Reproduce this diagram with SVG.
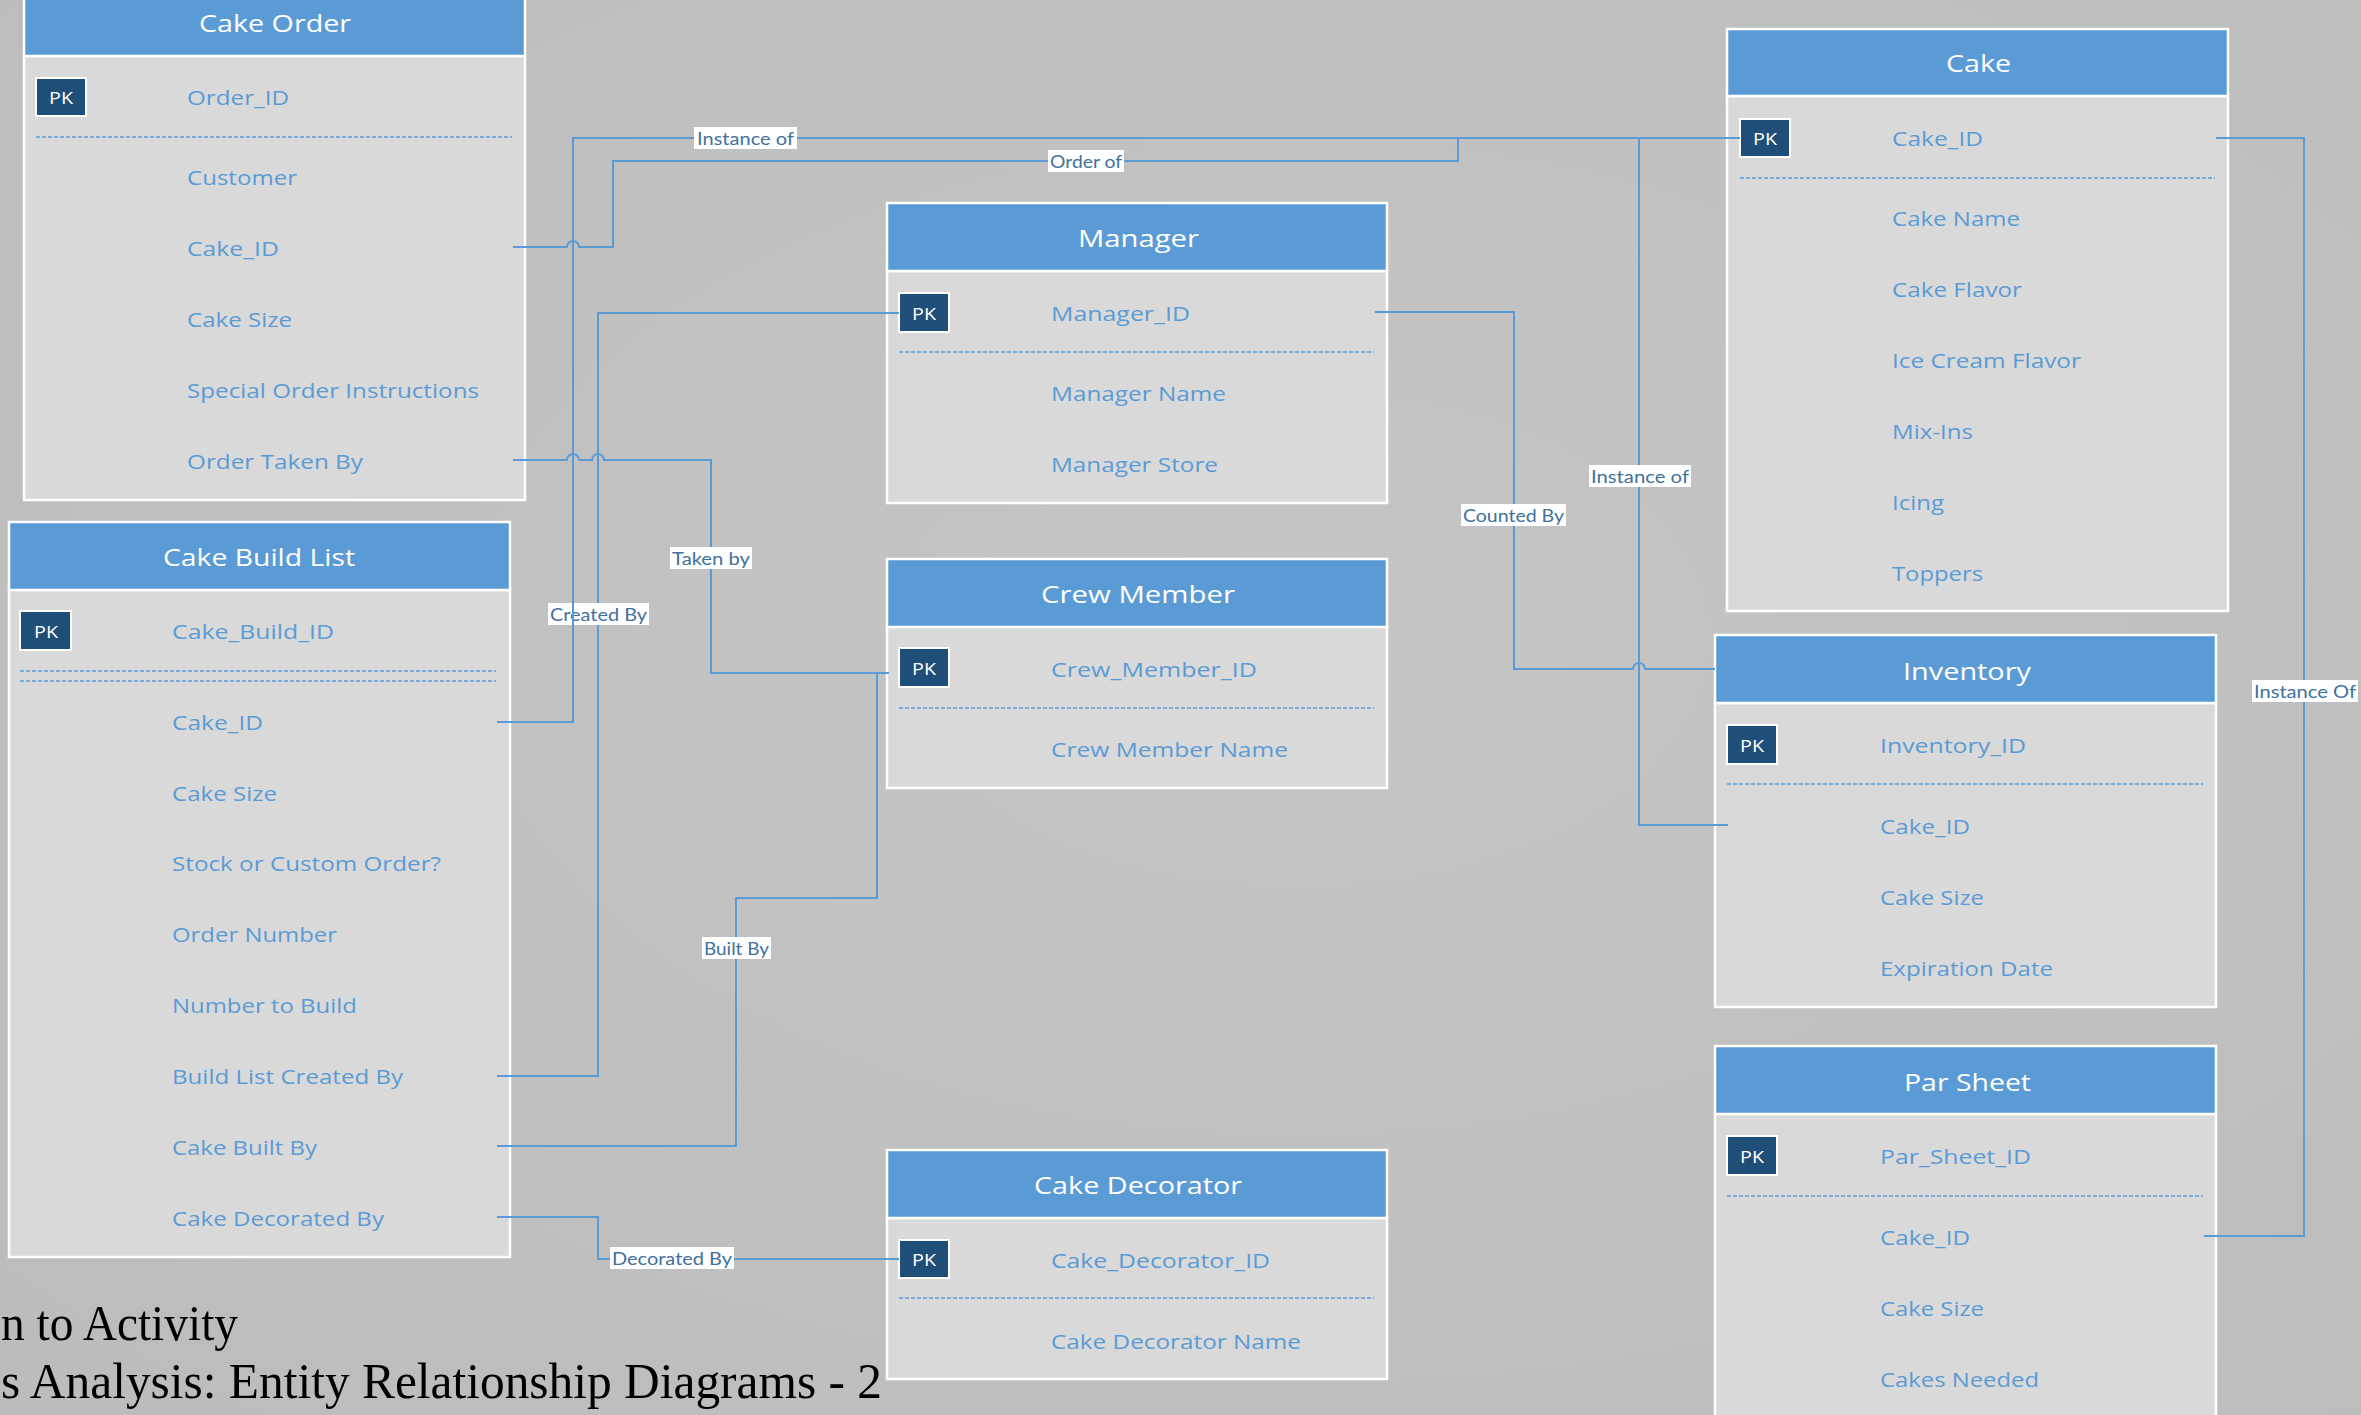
<svg xmlns="http://www.w3.org/2000/svg" width="2361" height="1415" viewBox="0 0 2361 1415">
<defs>
<radialGradient id="bgg" cx="0.55" cy="0.45" r="0.75">
<stop offset="0" stop-color="#c5c5c5"/>
<stop offset="1" stop-color="#bcbcbc"/>
</radialGradient>
<style>
.hdr{fill:#5b9bd5;stroke:#fff;stroke-width:2.5}
.body{fill:#d9d9d9;stroke:#fff;stroke-width:2.5}
.pk{fill:#1f4e79;stroke:#fff;stroke-width:2}
.pkt{fill:#fff;font-family:"Open Sans","Liberation Sans",sans-serif;font-size:17px;dominant-baseline:central}
.ttl{fill:#fff;font-family:"Open Sans","Liberation Sans",sans-serif;font-size:24px;dominant-baseline:central}
.att{fill:#5b9bd5;font-family:"Open Sans","Liberation Sans",sans-serif;font-size:20px;dominant-baseline:central}
.dash{stroke:#5b9bd5;stroke-width:1.5;stroke-dasharray:4 2;fill:none}
.conn{fill:none;stroke:#5b9bd5;stroke-width:2}
.lr{fill:#fff}
.lt{fill:#41719c;font-family:Lato,"Liberation Sans",sans-serif;font-size:17px;dominant-baseline:central}
.big{fill:#000;font-family:"Liberation Serif","Times New Roman",serif;font-size:51px}
</style>
</defs>
<rect x="0" y="0" width="2361" height="1415" fill="url(#bgg)"/>

<g id="cake-order">
<rect class="body" x="24" y="56" width="501" height="444"/>
<rect class="hdr" x="24" y="-12" width="501" height="68"/>
<text class="ttl" x="199" y="22" textLength="152" lengthAdjust="spacingAndGlyphs">Cake Order</text>
<rect class="pk" x="36" y="78" width="50" height="38"/>
<text class="pkt" x="49" y="97" textLength="24" lengthAdjust="spacingAndGlyphs">PK</text>
<text class="att" x="187" y="97" textLength="102" lengthAdjust="spacingAndGlyphs">Order_ID</text>
<line class="dash" x1="36" y1="137" x2="512" y2="137"/>
<text class="att" x="187" y="177" textLength="110" lengthAdjust="spacingAndGlyphs">Customer</text>
<text class="att" x="187" y="248" textLength="92" lengthAdjust="spacingAndGlyphs">Cake_ID</text>
<text class="att" x="187" y="319" textLength="105" lengthAdjust="spacingAndGlyphs">Cake Size</text>
<text class="att" x="187" y="390" textLength="292" lengthAdjust="spacingAndGlyphs">Special Order Instructions</text>
<text class="att" x="187" y="461" textLength="176" lengthAdjust="spacingAndGlyphs">Order Taken By</text>
</g>

<g id="cake-build-list">
<rect class="body" x="9" y="590" width="501" height="667"/>
<rect class="hdr" x="9" y="522" width="501" height="68"/>
<text class="ttl" x="163" y="556" textLength="192" lengthAdjust="spacingAndGlyphs">Cake Build List</text>
<rect class="pk" x="20" y="611" width="51" height="39"/>
<text class="pkt" x="34" y="631" textLength="24" lengthAdjust="spacingAndGlyphs">PK</text>
<text class="att" x="172" y="631" textLength="162" lengthAdjust="spacingAndGlyphs">Cake_Build_ID</text>
<line class="dash" x1="20" y1="671" x2="496" y2="671"/>
<line class="dash" x1="20" y1="681" x2="496" y2="681"/>
<text class="att" x="172" y="722" textLength="91" lengthAdjust="spacingAndGlyphs">Cake_ID</text>
<text class="att" x="172" y="793" textLength="105" lengthAdjust="spacingAndGlyphs">Cake Size</text>
<text class="att" x="172" y="863" textLength="269" lengthAdjust="spacingAndGlyphs">Stock or Custom Order?</text>
<text class="att" x="172" y="934" textLength="165" lengthAdjust="spacingAndGlyphs">Order Number</text>
<text class="att" x="172" y="1005" textLength="185" lengthAdjust="spacingAndGlyphs">Number to Build</text>
<text class="att" x="172" y="1076" textLength="231" lengthAdjust="spacingAndGlyphs">Build List Created By</text>
<text class="att" x="172" y="1147" textLength="145" lengthAdjust="spacingAndGlyphs">Cake Built By</text>
<text class="att" x="172" y="1218" textLength="212" lengthAdjust="spacingAndGlyphs">Cake Decorated By</text>
</g>

<g id="manager">
<rect class="body" x="887" y="271" width="500" height="232"/>
<rect class="hdr" x="887" y="203" width="500" height="68"/>
<text class="ttl" x="1078" y="237" textLength="121" lengthAdjust="spacingAndGlyphs">Manager</text>
<rect class="pk" x="899" y="293" width="50" height="39"/>
<text class="pkt" x="912" y="313" textLength="24" lengthAdjust="spacingAndGlyphs">PK</text>
<text class="att" x="1051" y="313" textLength="139" lengthAdjust="spacingAndGlyphs">Manager_ID</text>
<line class="dash" x1="899" y1="352" x2="1374" y2="352"/>
<text class="att" x="1051" y="393" textLength="175" lengthAdjust="spacingAndGlyphs">Manager Name</text>
<text class="att" x="1051" y="464" textLength="167" lengthAdjust="spacingAndGlyphs">Manager Store</text>
</g>

<g id="crew-member">
<rect class="body" x="887" y="627" width="500" height="161"/>
<rect class="hdr" x="887" y="559" width="500" height="68"/>
<text class="ttl" x="1041" y="593" textLength="194" lengthAdjust="spacingAndGlyphs">Crew Member</text>
<rect class="pk" x="899" y="648" width="50" height="39"/>
<text class="pkt" x="912" y="668" textLength="24" lengthAdjust="spacingAndGlyphs">PK</text>
<text class="att" x="1051" y="669" textLength="206" lengthAdjust="spacingAndGlyphs">Crew_Member_ID</text>
<line class="dash" x1="899" y1="708" x2="1374" y2="708"/>
<text class="att" x="1051" y="749" textLength="237" lengthAdjust="spacingAndGlyphs">Crew Member Name</text>
</g>

<g id="cake-decorator">
<rect class="body" x="887" y="1218" width="500" height="161"/>
<rect class="hdr" x="887" y="1150" width="500" height="68"/>
<text class="ttl" x="1034" y="1184" textLength="208" lengthAdjust="spacingAndGlyphs">Cake Decorator</text>
<rect class="pk" x="899" y="1240" width="50" height="38"/>
<text class="pkt" x="912" y="1259" textLength="24" lengthAdjust="spacingAndGlyphs">PK</text>
<text class="att" x="1051" y="1260" textLength="219" lengthAdjust="spacingAndGlyphs">Cake_Decorator_ID</text>
<line class="dash" x1="899" y1="1298" x2="1374" y2="1298"/>
<text class="att" x="1051" y="1341" textLength="250" lengthAdjust="spacingAndGlyphs">Cake Decorator Name</text>
</g>

<g id="cake">
<rect class="body" x="1727" y="96" width="501" height="515"/>
<rect class="hdr" x="1727" y="29" width="501" height="67"/>
<text class="ttl" x="1946" y="62" textLength="65" lengthAdjust="spacingAndGlyphs">Cake</text>
<rect class="pk" x="1740" y="119" width="50" height="38"/>
<text class="pkt" x="1753" y="138" textLength="24" lengthAdjust="spacingAndGlyphs">PK</text>
<text class="att" x="1892" y="138" textLength="91" lengthAdjust="spacingAndGlyphs">Cake_ID</text>
<line class="dash" x1="1740" y1="178" x2="2215" y2="178"/>
<text class="att" x="1892" y="218" textLength="128" lengthAdjust="spacingAndGlyphs">Cake Name</text>
<text class="att" x="1892" y="289" textLength="130" lengthAdjust="spacingAndGlyphs">Cake Flavor</text>
<text class="att" x="1892" y="360" textLength="189" lengthAdjust="spacingAndGlyphs">Ice Cream Flavor</text>
<text class="att" x="1892" y="431" textLength="81" lengthAdjust="spacingAndGlyphs">Mix-Ins</text>
<text class="att" x="1892" y="502" textLength="52" lengthAdjust="spacingAndGlyphs">Icing</text>
<text class="att" x="1892" y="573" textLength="91" lengthAdjust="spacingAndGlyphs">Toppers</text>
</g>

<g id="inventory">
<rect class="body" x="1715" y="703" width="501" height="304"/>
<rect class="hdr" x="1715" y="635" width="501" height="68"/>
<text class="ttl" x="1903" y="670" textLength="128" lengthAdjust="spacingAndGlyphs">Inventory</text>
<rect class="pk" x="1727" y="725" width="50" height="39"/>
<text class="pkt" x="1740" y="745" textLength="24" lengthAdjust="spacingAndGlyphs">PK</text>
<text class="att" x="1880" y="745" textLength="146" lengthAdjust="spacingAndGlyphs">Inventory_ID</text>
<line class="dash" x1="1727" y1="784" x2="2203" y2="784"/>
<text class="att" x="1880" y="826" textLength="90" lengthAdjust="spacingAndGlyphs">Cake_ID</text>
<text class="att" x="1880" y="897" textLength="104" lengthAdjust="spacingAndGlyphs">Cake Size</text>
<text class="att" x="1880" y="968" textLength="173" lengthAdjust="spacingAndGlyphs">Expiration Date</text>
</g>

<g id="par-sheet">
<rect class="body" x="1715" y="1114" width="501" height="320"/>
<rect class="hdr" x="1715" y="1046" width="501" height="68"/>
<text class="ttl" x="1904" y="1081" textLength="127" lengthAdjust="spacingAndGlyphs">Par Sheet</text>
<rect class="pk" x="1727" y="1136" width="50" height="39"/>
<text class="pkt" x="1740" y="1156" textLength="24" lengthAdjust="spacingAndGlyphs">PK</text>
<text class="att" x="1880" y="1156" textLength="151" lengthAdjust="spacingAndGlyphs">Par_Sheet_ID</text>
<line class="dash" x1="1727" y1="1196" x2="2203" y2="1196"/>
<text class="att" x="1880" y="1237" textLength="90" lengthAdjust="spacingAndGlyphs">Cake_ID</text>
<text class="att" x="1880" y="1308" textLength="104" lengthAdjust="spacingAndGlyphs">Cake Size</text>
<text class="att" x="1880" y="1379" textLength="159" lengthAdjust="spacingAndGlyphs">Cakes Needed</text>
</g>

<g id="connectors">
<g id="c-order-of">
<path class="conn" d="M513 247 H567 a6 6 0 0 1 12 0 H613 V161 H1458 V138"/>
<rect class="lr" x="1048" y="150" width="76" height="22"/>
<text class="lt" x="1050" y="161" textLength="72" lengthAdjust="spacingAndGlyphs">Order of</text>
</g>
<g id="c-taken-by">
<path class="conn" d="M513 460 H567 a6 6 0 0 1 12 0 H592 a6 6 0 0 1 12 0 H711 V673 H889"/>
<rect class="lr" x="670" y="547" width="82" height="22"/>
<text class="lt" x="672" y="558" textLength="78" lengthAdjust="spacingAndGlyphs">Taken by</text>
</g>
<g id="c-created-by">
<path class="conn" d="M497 1076 H598 V313 H899"/>
<rect class="lr" x="548" y="603" width="101" height="22"/>
<text class="lt" x="550" y="614" textLength="97" lengthAdjust="spacingAndGlyphs">Created By</text>
</g>
<g id="c-instance-of-build">
<path class="conn" d="M497 722 H573 V138 H1740"/>
<rect class="lr" x="694" y="127" width="103" height="22"/>
<text class="lt" x="697" y="138" textLength="97" lengthAdjust="spacingAndGlyphs">Instance of</text>
</g>
<g id="c-built-by">
<path class="conn" d="M497 1146 H736 V898 H877 V673"/>
<rect class="lr" x="702" y="937" width="69" height="22"/>
<text class="lt" x="704" y="948" textLength="65" lengthAdjust="spacingAndGlyphs">Built By</text>
</g>
<g id="c-decorated-by">
<path class="conn" d="M497 1217 H598 V1259 H899"/>
<rect class="lr" x="610" y="1247" width="124" height="22"/>
<text class="lt" x="612" y="1258" textLength="120" lengthAdjust="spacingAndGlyphs">Decorated By</text>
</g>
<g id="c-instance-of-inventory">
<path class="conn" d="M1639 138 V825 H1728"/>
<rect class="lr" x="1589" y="465" width="102" height="22"/>
<text class="lt" x="1591" y="476" textLength="98" lengthAdjust="spacingAndGlyphs">Instance of</text>
</g>
<g id="c-counted-by">
<path class="conn" d="M1375 312 H1514 V669 H1633 a6 6 0 0 1 12 0 H1715"/>
<rect class="lr" x="1461" y="504" width="105" height="22"/>
<text class="lt" x="1463" y="515" textLength="101" lengthAdjust="spacingAndGlyphs">Counted By</text>
</g>
<g id="c-instance-of-par">
<path class="conn" d="M2216 138 H2304 V1236 H2204"/>
<rect class="lr" x="2252" y="680" width="106" height="22"/>
<text class="lt" x="2254" y="691" textLength="102" lengthAdjust="spacingAndGlyphs">Instance Of</text>
</g>
</g>

<g id="caption">
<text class="big" x="1" y="1340" textLength="237" lengthAdjust="spacingAndGlyphs">n to Activity</text>
<text class="big" x="1" y="1398" textLength="881" lengthAdjust="spacingAndGlyphs">s Analysis: Entity Relationship Diagrams - 2</text>
</g>
</svg>
